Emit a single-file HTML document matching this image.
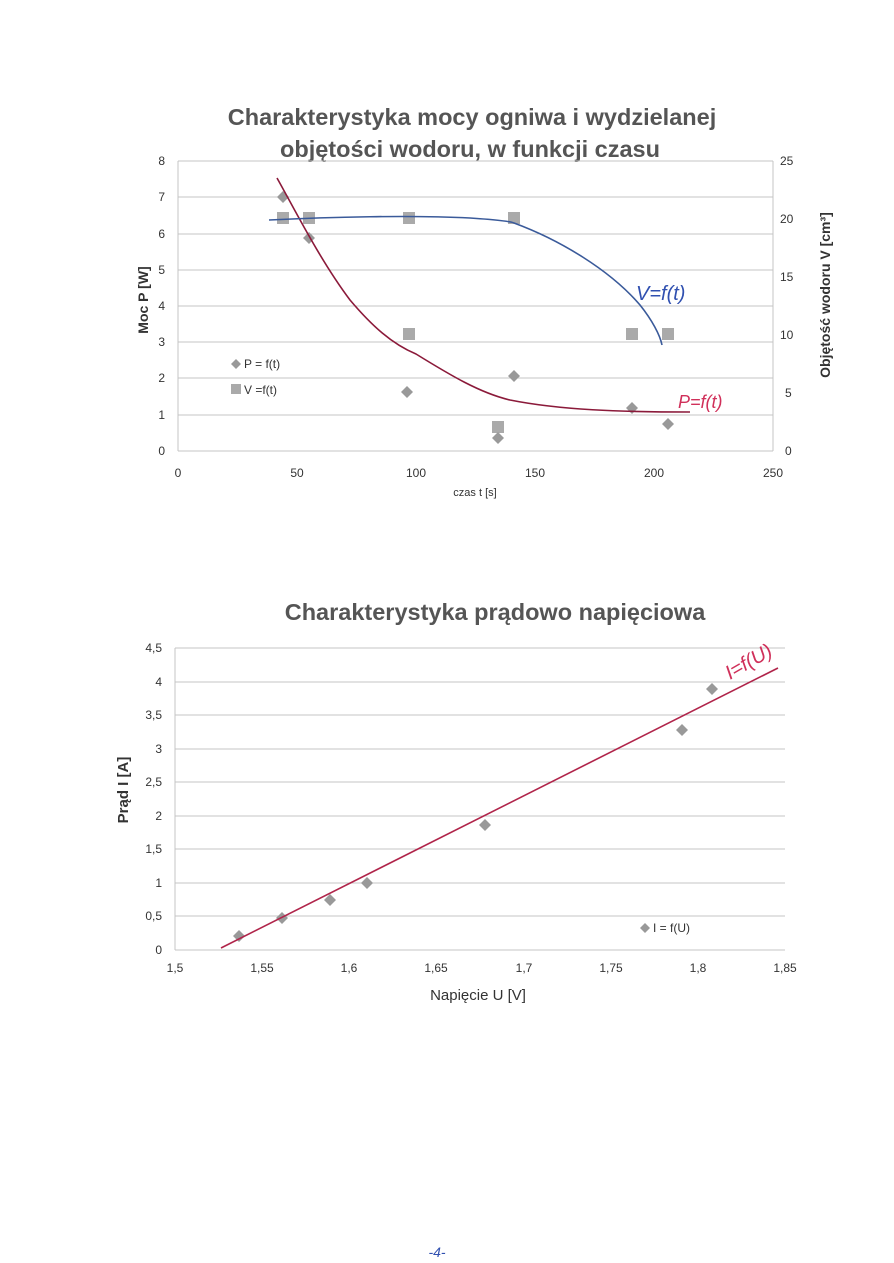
<!DOCTYPE html>
<html><head><meta charset="utf-8"><style>
body{margin:0;background:#fff;}
svg{display:block;font-family:"Liberation Sans",sans-serif;}
</style></head><body>
<svg width="894" height="1263" viewBox="0 0 894 1263" xmlns="http://www.w3.org/2000/svg">
<rect width="894" height="1263" fill="#fff"/>
<!-- Chart 1 -->
<text x="472" y="125" text-anchor="middle" font-size="23.5" font-weight="bold" fill="#555">Charakterystyka mocy ogniwa i wydzielanej</text>
<text x="470" y="157" text-anchor="middle" font-size="23.5" font-weight="bold" fill="#555">objętości wodoru, w funkcji czasu</text>
<g stroke="#c4c4c4" stroke-width="1">
<line x1="178" y1="161" x2="773" y2="161"/><line x1="178" y1="197" x2="773" y2="197"/>
<line x1="178" y1="234" x2="773" y2="234"/><line x1="178" y1="270" x2="773" y2="270"/>
<line x1="178" y1="306" x2="773" y2="306"/><line x1="178" y1="342" x2="773" y2="342"/>
<line x1="178" y1="378" x2="773" y2="378"/><line x1="178" y1="415" x2="773" y2="415"/>
<line x1="178" y1="451" x2="773" y2="451"/>
<line x1="178" y1="161" x2="178" y2="451"/><line x1="773" y1="161" x2="773" y2="451"/>
</g>
<g font-size="12" fill="#333" text-anchor="end">
<text x="165" y="165">8</text><text x="165" y="201">7</text><text x="165" y="238">6</text><text x="165" y="274">5</text><text x="165" y="310">4</text><text x="165" y="346">3</text><text x="165" y="382">2</text><text x="165" y="419">1</text><text x="165" y="455">0</text>
</g>
<g font-size="12" fill="#333">
<text x="780" y="165">25</text><text x="780" y="223">20</text><text x="780" y="281">15</text><text x="780" y="339">10</text><text x="785" y="397">5</text><text x="785" y="455">0</text>
</g>
<g font-size="12" fill="#333" text-anchor="middle">
<text x="178" y="477">0</text><text x="297" y="477">50</text><text x="416" y="477">100</text><text x="535" y="477">150</text><text x="654" y="477">200</text><text x="773" y="477">250</text>
</g>
<text x="475" y="496" text-anchor="middle" font-size="11" fill="#333">czas t [s]</text>
<text transform="translate(148,300) rotate(-90)" text-anchor="middle" font-size="14" font-weight="bold" fill="#333">Moc P [W]</text>
<text transform="translate(830,295) rotate(-90)" text-anchor="middle" font-size="14" font-weight="bold" fill="#333">Objętość wodoru V [cm³]</text>
<g fill="#aaa">
<rect x="277" y="212" width="12" height="12"/><rect x="303" y="212" width="12" height="12"/><rect x="403" y="212" width="12" height="12"/><rect x="508" y="212" width="12" height="12"/>
<rect x="403" y="328" width="12" height="12"/><rect x="626" y="328" width="12" height="12"/><rect x="662" y="328" width="12" height="12"/><rect x="492" y="421" width="12" height="12"/>
<rect x="231" y="384" width="10" height="10"/>
</g>
<g fill="#999">
<path d="M283 191l6 6-6 6-6-6z"/><path d="M309 232l6 6-6 6-6-6z"/><path d="M407 386l6 6-6 6-6-6z"/><path d="M498 432l6 6-6 6-6-6z"/><path d="M514 370l6 6-6 6-6-6z"/><path d="M632 402l6 6-6 6-6-6z"/><path d="M668 418l6 6-6 6-6-6z"/>
<path d="M236 359l5 5-5 5-5-5z"/>
</g>
<text x="244" y="368" font-size="12" fill="#333">P = f(t)</text>
<text x="244" y="394" font-size="12" fill="#333">V =f(t)</text>
<path d="M277 178 C295 210 320 260 350 300 C372 326 392 344 416 354 C450 375 480 393 510 400 C560 410 620 412 690 412" fill="none" stroke="#8b1a3a" stroke-width="1.6"/>
<path d="M269 220 C330 217 410 215 470 218 C500 220 514 222 514 223 C560 240 610 270 640 305 C652 320 660 335 662 345" fill="none" stroke="#3a5a9a" stroke-width="1.6"/>
<text x="636" y="300" font-size="20" fill="#3050b0" font-style="italic">V=f(t)</text>
<text x="678" y="408" font-size="18" fill="#d0305a" font-style="italic">P=f(t)</text>
<!-- Chart 2 -->
<text x="495" y="620" text-anchor="middle" font-size="23.5" font-weight="bold" fill="#555">Charakterystyka prądowo napięciowa</text>
<g stroke="#c4c4c4" stroke-width="1">
<line x1="175" y1="648" x2="785" y2="648"/><line x1="175" y1="682" x2="785" y2="682"/><line x1="175" y1="715" x2="785" y2="715"/><line x1="175" y1="749" x2="785" y2="749"/><line x1="175" y1="782" x2="785" y2="782"/><line x1="175" y1="816" x2="785" y2="816"/><line x1="175" y1="849" x2="785" y2="849"/><line x1="175" y1="883" x2="785" y2="883"/><line x1="175" y1="916" x2="785" y2="916"/><line x1="175" y1="950" x2="785" y2="950"/>
<line x1="175" y1="648" x2="175" y2="950"/>
</g>
<g font-size="12" fill="#333" text-anchor="end">
<text x="162" y="652">4,5</text><text x="162" y="686">4</text><text x="162" y="719">3,5</text><text x="162" y="753">3</text><text x="162" y="786">2,5</text><text x="162" y="820">2</text><text x="162" y="853">1,5</text><text x="162" y="887">1</text><text x="162" y="920">0,5</text><text x="162" y="954">0</text>
</g>
<g font-size="12" fill="#333" text-anchor="middle">
<text x="175" y="972">1,5</text><text x="262" y="972">1,55</text><text x="349" y="972">1,6</text><text x="436" y="972">1,65</text><text x="524" y="972">1,7</text><text x="611" y="972">1,75</text><text x="698" y="972">1,8</text><text x="785" y="972">1,85</text>
</g>
<text x="478" y="1000" text-anchor="middle" font-size="15" fill="#333">Napięcie U [V]</text>
<text transform="translate(128,790) rotate(-90)" text-anchor="middle" font-size="15" font-weight="bold" fill="#333">Prąd I [A]</text>
<g fill="#999">
<path d="M239 930l6 6-6 6-6-6z"/><path d="M282 912l6 6-6 6-6-6z"/><path d="M330 894l6 6-6 6-6-6z"/><path d="M367 877l6 6-6 6-6-6z"/><path d="M485 819l6 6-6 6-6-6z"/><path d="M682 724l6 6-6 6-6-6z"/><path d="M712 683l6 6-6 6-6-6z"/>
<path d="M645 923l5 5-5 5-5-5z"/>
</g>
<text x="653" y="932" font-size="12" fill="#333">I = f(U)</text>
<line x1="221" y1="948" x2="778" y2="668" stroke="#b0244a" stroke-width="1.6"/>
<text transform="translate(730,680) rotate(-30)" font-size="20" fill="#d0305a" font-style="italic">I=f(U)</text>
<text x="437" y="1257" text-anchor="middle" font-size="14" fill="#3050b0" font-style="italic">-4-</text>
</svg>
</body></html>
